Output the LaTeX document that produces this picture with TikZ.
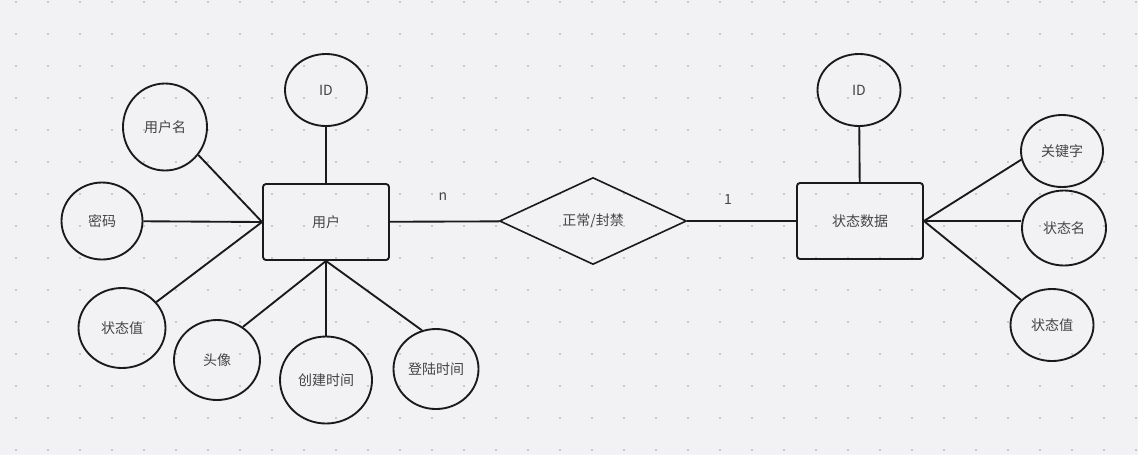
\documentclass[tikz,border=0pt]{standalone}
\usepackage{fontspec}
\newfontfamily\cjk{Noto Sans CJK SC}
\usetikzlibrary{shapes.geometric}
\definecolor{bgpaper}{HTML}{F2F2F4}
\definecolor{griddot}{HTML}{C9C9CD}
\definecolor{inkline}{HTML}{1A1A1A}
\definecolor{inktext}{HTML}{444444}

\begin{document}
\begin{tikzpicture}[x=0.75pt,y=-0.75pt,
  esize/.style 2 args={minimum width=#1*0.75pt,minimum height=#2*0.75pt},
  label/.style={text=inktext,font=\cjk\fontsize{10.5}{12}\selectfont},
  attr/.style={ellipse,draw=inkline,line width=1.4pt,inner sep=0pt,label},
  entity/.style={rectangle,draw=inkline,line width=1.4pt,rounded corners=2.25pt,inner sep=0pt,esize={126}{76},label},
  rel/.style={diamond,draw=inkline,line width=1.2pt,inner sep=0pt,aspect=2,esize={187}{87},label},
  link/.style={draw=inkline,line width=1.4pt}]
  \useasboundingbox (0,0) rectangle (1138,455);
  \fill[bgpaper] (0,0) rectangle (1138,455);
  \foreach \x in {16,48,...,1136}{
    \foreach \y in {2,34,...,450}{
      \fill[griddot] (\x-1,\y-1) rectangle (\x+1,\y+1);
    }
  }

  \node[entity] (user) at (326,222) {用户};
  \node[rel] (ban) at (593,221) {正常/封禁};
  \node[entity] (state) at (860,221) {状态数据};

  \node[attr,esize={82}{72}] (userid) at (326,90) {ID};
  \node[attr,esize={84}{87}] (uname) at (165,127) {用户名};
  \node[attr,esize={81}{77}] (pwd) at (102,221) {密码};
  \node[attr,esize={87}{80}] (uval) at (122,328) {状态值};
  \node[attr,esize={86}{80}] (avatar) at (217,360) {头像};
  \node[attr,esize={92}{87}] (ctime) at (326,380) {创建时间};
  \node[attr,esize={85}{80}] (ltime) at (436,369) {登陆时间};

  \node[attr,esize={83}{72}] (stateid) at (859,90) {ID};
  \node[attr,esize={82}{72}] (skey) at (1062,151) {关键字};
  \node[attr,esize={84}{75}] (sname) at (1064,228) {状态名};
  \node[attr,esize={83}{72}] (sval) at (1052,325) {状态值};

  \node[label] (card-n) at (443,197) {n};
  \node[label] (card-1) at (728,199) {1};

  \draw[link] (user) -- (userid);
  \draw[link] (uname.-40) -- (user.west);
  \draw[link] (pwd) -- (user.west);
  \draw[link] (uval) -- (user.west);
  \draw[link] (avatar.52) -- (user.south);
  \draw[link] (ctime) -- (user.south);
  \draw[link] (ltime.110) -- (user.south);
  \draw[link] (user) -- (ban);
  \draw[link] (ban) -- (state);
  \draw[link] (state) -- (stateid);
  \draw[link] (skey.192) -- (state.east);
  \draw[link] (state.east) -- (state.east -| sname.west);
  \draw[link] (sval) -- (state.east);
\end{tikzpicture}
\end{document}
